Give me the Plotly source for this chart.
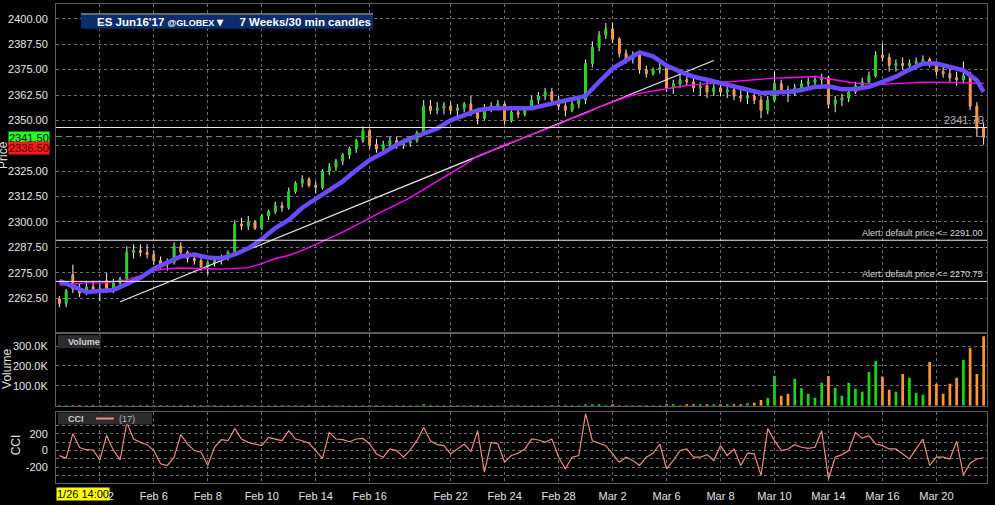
import plotly.graph_objects as go
from plotly.subplots import make_subplots

# trading sessions shown on the chart (Feb 20 holiday skipped by the platform)
trade_days = ["2017-01-31", "2017-02-01", "2017-02-02", "2017-02-03", "2017-02-06", "2017-02-07",
              "2017-02-08", "2017-02-09", "2017-02-10", "2017-02-13", "2017-02-14", "2017-02-15",
              "2017-02-16", "2017-02-17", "2017-02-21", "2017-02-22", "2017-02-23", "2017-02-24",
              "2017-02-27", "2017-02-28", "2017-03-01", "2017-03-02", "2017-03-03", "2017-03-06",
              "2017-03-07", "2017-03-08", "2017-03-09", "2017-03-10", "2017-03-13", "2017-03-14",
              "2017-03-15", "2017-03-16", "2017-03-17", "2017-03-20", "2017-03-21"]
slot_times = ["00:00", "06:00", "12:00", "18:00"]

label_days = ["2017-02-02", "2017-02-06", "2017-02-08", "2017-02-10", "2017-02-14", "2017-02-16",
              "2017-02-22", "2017-02-24", "2017-02-28", "2017-03-02", "2017-03-06", "2017-03-08",
              "2017-03-10", "2017-03-14", "2017-03-16", "2017-03-20"]
label_text = ["Feb 2", "Feb 6", "Feb 8", "Feb 10", "Feb 14", "Feb 16", "Feb 22", "Feb 24", "Feb 28",
              "Mar 2", "Mar 6", "Mar 8", "Mar 10", "Mar 14", "Mar 16", "Mar 20"]

bar_open = [2262, 2260, 2274, 2267, 2265, 2268, 2267, 2271, 2267, 2270,
            2272, 2285, 2286, 2285, 2284, 2281, 2279, 2280, 2288, 2285,
            2282, 2281, 2278, 2280, 2281, 2283, 2285, 2299, 2298, 2300,
            2297, 2303, 2305, 2308, 2307, 2315, 2319, 2321, 2318, 2317,
            2325, 2327, 2330, 2333, 2336, 2340, 2345, 2338, 2336, 2338,
            2340, 2338, 2339, 2340, 2344, 2357, 2355, 2356, 2357, 2355,
            2356, 2358, 2354, 2351, 2356, 2357, 2358, 2350, 2354, 2353,
            2356, 2360, 2362, 2364, 2360, 2357, 2355, 2358, 2360, 2378,
            2386, 2392, 2395, 2390, 2383, 2380, 2382, 2375, 2373, 2375,
            2376, 2366, 2368, 2370, 2369, 2366, 2367, 2364, 2366, 2364,
            2365, 2362, 2361, 2362, 2360, 2355, 2360, 2368, 2365, 2363,
            2366, 2368, 2369, 2370, 2371, 2358, 2360, 2361, 2364, 2367,
            2369, 2372, 2382, 2381, 2377, 2378, 2377, 2378, 2379, 2380,
            2378, 2374, 2373, 2371, 2370, 2372, 2357, 2346]
bar_high = [2263.5, 2267, 2279, 2270, 2271, 2271, 2270, 2275, 2272, 2273,
            2288, 2289, 2289, 2289, 2286, 2283, 2282, 2290, 2290, 2286,
            2284, 2283, 2281, 2283, 2284, 2286, 2301, 2302, 2303, 2301,
            2304, 2306, 2310, 2310, 2317, 2320, 2323, 2322, 2320, 2326,
            2329, 2331, 2334, 2337, 2341, 2347, 2346, 2341, 2340, 2342,
            2342, 2341, 2342, 2345, 2360, 2360, 2359, 2359, 2359, 2358,
            2359, 2362, 2356, 2358, 2359, 2360, 2359, 2355, 2356, 2357,
            2362, 2364, 2366, 2366, 2362, 2359, 2360, 2361, 2380, 2389,
            2394, 2398, 2398, 2391, 2385, 2384, 2383, 2377, 2376, 2379,
            2377, 2370, 2373, 2374, 2371, 2369, 2370, 2368, 2369, 2367,
            2367, 2366, 2365, 2364, 2362, 2362, 2374, 2370, 2367, 2368,
            2370, 2371, 2372, 2373, 2372, 2362, 2363, 2365, 2369, 2371,
            2374, 2384, 2388, 2383, 2380, 2381, 2380, 2381, 2382, 2381,
            2379, 2377, 2376, 2374, 2379, 2374, 2359, 2349]
bar_low = [2258, 2258, 2265, 2263, 2264, 2266, 2261, 2265, 2265, 2268,
           2271, 2282, 2283, 2282, 2279, 2277, 2276, 2279, 2283, 2280,
           2279, 2276, 2274, 2278, 2279, 2281, 2284, 2296, 2296, 2296,
           2296, 2301, 2304, 2305, 2306, 2314, 2317, 2317, 2314, 2316,
           2323, 2325, 2328, 2331, 2334, 2339, 2336, 2334, 2334, 2336,
           2336, 2336, 2337, 2339, 2343, 2353, 2353, 2353, 2353, 2352,
           2354, 2352, 2348, 2350, 2354, 2355, 2348, 2349, 2351, 2352,
           2355, 2358, 2360, 2358, 2355, 2352, 2354, 2356, 2358, 2376,
           2384, 2390, 2388, 2381, 2378, 2378, 2373, 2371, 2372, 2373,
           2364, 2363, 2366, 2367, 2364, 2362, 2361, 2362, 2362, 2361,
           2360, 2359, 2358, 2358, 2351, 2353, 2359, 2363, 2359, 2362,
           2364, 2366, 2367, 2366, 2356, 2354, 2357, 2359, 2363, 2366,
           2368, 2371, 2379, 2374, 2374, 2375, 2375, 2376, 2377, 2376,
           2372, 2371, 2369, 2367, 2368, 2355, 2342, 2338]
bar_close = [2260, 2266, 2267, 2265, 2268, 2267, 2266, 2267, 2270, 2272,
             2285, 2286, 2285, 2284, 2281, 2279, 2280, 2288, 2285, 2282,
             2281, 2278, 2280, 2281, 2283, 2285, 2299, 2298, 2300, 2297,
             2303, 2305, 2308, 2307, 2315, 2319, 2321, 2318, 2317, 2325,
             2327, 2330, 2333, 2336, 2340, 2345, 2338, 2336, 2338, 2340,
             2338, 2339, 2340, 2344, 2357, 2355, 2356, 2357, 2355, 2356,
             2358, 2354, 2351, 2356, 2357, 2358, 2350, 2354, 2353, 2356,
             2360, 2362, 2364, 2360, 2357, 2355, 2358, 2360, 2378, 2386,
             2392, 2395, 2390, 2383, 2380, 2382, 2375, 2373, 2375, 2376,
             2366, 2368, 2370, 2369, 2366, 2367, 2364, 2366, 2364, 2365,
             2362, 2361, 2362, 2360, 2355, 2360, 2368, 2365, 2363, 2366,
             2368, 2369, 2370, 2371, 2358, 2360, 2361, 2364, 2367, 2369,
             2372, 2382, 2381, 2377, 2378, 2377, 2378, 2379, 2380, 2378,
             2374, 2373, 2371, 2370, 2372, 2357, 2346, 2341.75]

volume = [300, 500, 800, 400, 300, 200, 600, 900, 400, 300, 1200, 700, 400, 500,
          600, 400, 300, 900, 700, 500, 400, 800, 600, 400, 500, 700, 1500, 800,
          600, 700, 900, 800, 600, 700, 1400, 900, 800, 700, 900, 1100, 800, 900,
          1000, 1100, 1300, 1600, 1500, 1000, 800, 900, 700, 800, 900, 1100, 2200, 1200,
          1000, 900, 1100, 1000, 900, 1600, 1500, 1200, 1000, 900, 1700, 1300, 1100, 1000,
          1400, 1300, 1500, 1600, 1400, 1500, 1200, 1300, 3500, 2500, 2200, 2000, 2400, 2100,
          1900, 1700, 2100, 1900, 1800, 2000, 2600, 2300, 2100, 2400, 3000, 2800, 4500, 3800,
          5000, 4200, 6000, 7500, 12000, 15000, 28000, 38000,
          150000, 50000, 60000, 135000, 88000, 60000, 40000, 115000, 150000, 90000,
          50000, 115000, 85000, 70000, 170000, 225000, 145000, 80000, 70000, 160000,
          140000, 65000, 55000, 220000, 110000, 60000, 110000, 140000, 230000, 290000,
          160000, 350000]

cci = [-60, -90, 200, 35, 10, 7, -110, 180, 5, -110,
       333, 137, 97, 70, 0, -157, -177, -79, 190, 78,
       0, -20, -177, 39, 129, 117, 260, 137, 97, 78,
       58, 156, 137, 117, 235, 137, 117, 86, 0, -95,
       215, 137, 129, 105, 137, 144, 78, -40, -79, 19,
       0, -79, 7, 117, 274, 117, 70, 58, -40, 19,
       78, -12, 235, -255, 97, 78, -138, -59, -32, 19,
       137, 125, 97, 137, -79, -216, -79, -59, 438, 117,
       86, 58, -40, -138, -79, -118, -177, -79, -32, 78,
       -216, -118, 0, 19, -79, -79, -48, -118, 58, -59,
       19, -177, -32, -40, -295, 260, 117, 0, 19, 70,
       39, 27, 39, 235, -334, -79, -48, 0, 215, 148,
       176, 78, 58, 19, 19, -40, -99, 19, 137, -177,
       -79, -79, -100, 110, -290, -150, -100, -85]

# moving averages read at every second bar plus the last one
ma_fast = [2271, 2268, 2265.5, 2266, 2266.5, 2269.5, 2272.5, 2277, 2280, 2283,
           2284, 2282.5, 2282, 2284, 2287, 2291.5, 2297, 2301, 2307, 2311.5,
           2316, 2320, 2325.5, 2330.5, 2334, 2338, 2341, 2343.5, 2346, 2350,
           2352.5, 2355, 2356, 2356, 2355.5, 2356, 2357.5, 2359, 2360, 2362,
           2369, 2375.5, 2379.5, 2383.5, 2381.5, 2377, 2374, 2371.5, 2370, 2368.3,
           2366.5, 2365, 2363.5, 2363.7, 2364, 2365, 2366.5, 2366.8, 2365.3, 2365.5,
           2366.5, 2369, 2371.5, 2375, 2378, 2378, 2376.5, 2374.6, 2369.7, 2364]
ma_slow = [2269, 2269.5, 2270, 2270, 2270.5, 2271.5, 2273.5, 2276, 2277, 2277.3,
           2277.3, 2277, 2276.8, 2277, 2277.5, 2279.5, 2282, 2283.5, 2286, 2289,
           2292, 2295, 2298.5, 2302, 2305.5, 2308.5, 2312, 2316, 2320, 2324,
           2328, 2332.5, 2335, 2338, 2340.3, 2343, 2345.5, 2348, 2351, 2353.5,
           2356.5, 2359, 2361.5, 2363.3, 2364.5, 2365.5, 2366.7, 2367.5, 2368.2, 2368.8,
           2369.2, 2369.8, 2370.5, 2370.8, 2371, 2371.2, 2371.6, 2370.5, 2369.5, 2368.3,
           2368, 2367.8, 2368.1, 2368.5, 2368.8, 2368.8, 2368.8, 2368.6, 2368.3, 2368.3]

trend_bars = [9, 97]
trend_prices = [2260.75, 2379.5]
alert_prices = [2291.00, 2270.75]
price_ticks = [2262.5, 2275, 2287.5, 2300, 2312.5, 2325, 2337.5, 2350, 2362.5, 2375, 2387.5, 2400]

up_color = "#14d814"
down_color = "#ff9433"
grid = "#6c6c6c"
border = "#5e5e5e"
font = "Liberation Sans, Arial, sans-serif"

bar_times = [d + " " + t for d in trade_days for t in slot_times][2:]
tick_vals = [d + " 00:00" for d in label_days]
ma_x = bar_times[0::2] + [bar_times[-1]]
body_top = [max(o, c) for o, c in zip(bar_open, bar_close)]
body_bottom = [min(o, c) for o, c in zip(bar_open, bar_close)]
vol_colors = [up_color if c >= o else down_color for o, c in zip(bar_open, bar_close)]


def px_x(px):
    return (px - 56) / 931.0


def px_y(py):
    return (486 - py) / 483.0


fig = make_subplots(rows=3, cols=1, shared_xaxes=True, vertical_spacing=0.01)

# white wicks, coloured bodies on top
fig.add_trace(go.Candlestick(x=bar_times, open=bar_open, high=bar_high, low=bar_low, close=bar_close,
                             increasing=dict(line=dict(color="#f2f2f2", width=1), fillcolor="#f2f2f2"),
                             decreasing=dict(line=dict(color="#f2f2f2", width=1), fillcolor="#f2f2f2"),
                             hoverinfo="skip"), row=1, col=1)
fig.add_trace(go.Candlestick(x=bar_times, open=bar_open, high=body_top, low=body_bottom, close=bar_close,
                             increasing=dict(line=dict(color=up_color, width=1), fillcolor=up_color),
                             decreasing=dict(line=dict(color=down_color, width=1), fillcolor=down_color),
                             hoverinfo="skip"), row=1, col=1)
fig.add_trace(go.Scatter(x=[bar_times[i] for i in trend_bars], y=trend_prices, mode="lines",
                         line=dict(color="#e8e8e8", width=1.2)), row=1, col=1)
fig.add_trace(go.Scatter(x=ma_x, y=ma_slow, mode="lines", line=dict(color="#ff00ff", width=1.4)), row=1, col=1)
fig.add_trace(go.Scatter(x=ma_x, y=ma_fast, mode="lines", line=dict(color="#6a4bff", width=4.5)), row=1, col=1)

fig.add_trace(go.Bar(x=bar_times, y=volume, marker_color=vol_colors, marker_line_width=0, width=0.4), row=2, col=1)
fig.add_trace(go.Scatter(x=bar_times, y=cci, mode="lines", line=dict(color="#f08b86", width=1.2)), row=3, col=1)

fig.update_xaxes(type="category", range=[-0.5, len(bar_times) - 0.5], tickvals=tick_vals, ticktext=label_text,
                 showgrid=True, gridcolor=grid, griddash="3px,3px", gridwidth=1,
                 showline=True, mirror=True, linecolor=border, linewidth=1, zeroline=False,
                 ticks="outside", ticklen=3, tickcolor="black",
                 tickfont=dict(family=font, size=11, color="#e0e0e0"), rangeslider_visible=False)
fig.update_xaxes(showticklabels=False, row=1, col=1)
fig.update_xaxes(showticklabels=False, row=2, col=1)

fig.update_yaxes(showgrid=True, gridcolor=grid, griddash="3px,3px", gridwidth=1, zeroline=False,
                 showline=True, mirror=True, linecolor=border, linewidth=1,
                 ticks="outside", ticklen=5, tickcolor="black",
                 tickfont=dict(family=font, size=11, color="#e6e6e6"))
fig.update_yaxes(range=[2245.7, 2407.3], tickvals=price_ticks, tickformat=".2f", row=1, col=1)
fig.update_yaxes(range=[0, 360000], tickvals=[100000, 200000, 300000],
                 ticktext=["100.0K", "200.0K", "300.0K"], row=2, col=1)
fig.update_yaxes(range=[-385, 462], tickvals=[-200, 0, 200], ticktext=["-200", "0", "200"],
                 minor=dict(tickvals=[-300, -100, 100, 300], showgrid=True, gridcolor=grid,
                            griddash="3px,3px", ticks=""), row=3, col=1)

shapes = []
for p in alert_prices:
    shapes.append(dict(type="line", xref="x domain", yref="y", x0=0, x1=1, y0=p, y1=p,
                       line=dict(color="#f0f0f0", width=1)))
shapes.append(dict(type="line", xref="x domain", yref="y", x0=0, x1=1, y0=2346.5, y1=2346.5,
                   line=dict(color="#e8e8e8", width=1.2)))
shapes.append(dict(type="line", xref="x domain", yref="y", x0=0, x1=1, y0=2342, y1=2342,
                   line=dict(color="#8a8a8a", width=1, dash="6px,4px")))
# title banner
shapes.append(dict(type="rect", xref="paper", yref="paper", x0=px_x(81), x1=px_x(373), y0=px_y(28), y1=px_y(14),
                   fillcolor="#0b2d6e", line=dict(width=0), layer="above"))
shapes.append(dict(type="rect", xref="paper", yref="paper", x0=px_x(81), x1=px_x(373), y0=px_y(14), y1=px_y(12),
                   fillcolor="#6a6a6a", line=dict(width=0), layer="above"))
# study labels
shapes.append(dict(type="rect", xref="paper", yref="paper", x0=px_x(58), x1=px_x(101), y0=px_y(350), y1=px_y(337),
                   fillcolor="#2c2c2c", line=dict(width=0), layer="above"))
shapes.append(dict(type="rect", xref="paper", yref="paper", x0=px_x(58), x1=px_x(152), y0=px_y(427), y1=px_y(415),
                   fillcolor="#2c2c2c", line=dict(width=0), layer="above"))
shapes.append(dict(type="line", xref="paper", yref="paper", x0=px_x(96), x1=px_x(114), y0=px_y(421), y1=px_y(421),
                   line=dict(color="#f08b86", width=2), layer="above"))

annotations = [
    dict(text="<b>ES Jun16'17 <span style='font-size:9px'>@GLOBEX</span> ▾</b>     <b>7 Weeks/30 min candles</b>",
         xref="paper", yref="paper", x=px_x(95), y=px_y(21.5), xanchor="left", yanchor="middle",
         showarrow=False, font=dict(family=font, size=11.5, color="white")),
    dict(text="<b>Volume</b>", xref="paper", yref="paper", x=px_x(66), y=px_y(343.5), xanchor="left",
         yanchor="middle", showarrow=False, font=dict(family=font, size=9, color="#d0d0d0")),
    dict(text="<b>CCI</b>", xref="paper", yref="paper", x=px_x(66), y=px_y(421), xanchor="left",
         yanchor="middle", showarrow=False, font=dict(family=font, size=9, color="#d0d0d0")),
    dict(text="(17)", xref="paper", yref="paper", x=px_x(117), y=px_y(421), xanchor="left",
         yanchor="middle", showarrow=False, font=dict(family=font, size=9, color="#b8b8b8")),
    dict(text="Alert: default price <= 2291.00", xref="paper", yref="y", x=px_x(985), y=2291,
         xanchor="right", yanchor="bottom", showarrow=False, font=dict(family=font, size=9, color="#d8d8d8")),
    dict(text="Alert: default price <= 2270.75", xref="paper", yref="y", x=px_x(985), y=2270.75,
         xanchor="right", yanchor="bottom", showarrow=False, font=dict(family=font, size=9, color="#d8d8d8")),
    dict(text="2341.70", xref="paper", yref="y", x=px_x(986), y=2346.5, xanchor="right", yanchor="bottom",
         showarrow=False, font=dict(family=font, size=11, color="#b0b0b0")),
    dict(text="2341.50", xref="paper", yref="y", x=px_x(50), y=2341.5, xanchor="right", yanchor="middle",
         showarrow=False, bgcolor="#22ff22", borderpad=0, font=dict(family=font, size=11, color="black")),
    dict(text="2336.50", xref="paper", yref="y", x=px_x(50), y=2336.5, xanchor="right", yanchor="middle",
         showarrow=False, bgcolor="#ff1818", borderpad=0, font=dict(family=font, size=11, color="#3a0000")),
    dict(text="1/26 14:00", xref="paper", yref="paper", x=0, y=px_y(497), xanchor="left", yanchor="middle",
         showarrow=False, bgcolor="#ffff00", borderpad=0, font=dict(family=font, size=11, color="black")),
    dict(text="Price", xref="paper", yref="y", x=px_x(3), y=2333, textangle=-90, xanchor="center",
         yanchor="middle", showarrow=False, font=dict(family=font, size=12, color="#e0e0e0")),
    dict(text="Volume", xref="paper", yref="paper", x=px_x(7), y=px_y(371), textangle=-90, xanchor="center",
         yanchor="middle", showarrow=False, font=dict(family=font, size=12, color="#e0e0e0")),
    dict(text="CCI", xref="paper", yref="paper", x=px_x(16), y=px_y(448), textangle=-90, xanchor="center",
         yanchor="middle", showarrow=False, font=dict(family=font, size=12, color="#e0e0e0")),
]

fig.update_layout(width=995, height=505, margin=dict(l=56, r=8, t=3, b=19),
                  paper_bgcolor="black", plot_bgcolor="black", showlegend=False, hovermode=False,
                  boxgap=0.68, bargap=0.5,
                  yaxis=dict(domain=[0.3147, 1]), yaxis2=dict(domain=[0.1615, 0.3106]),
                  yaxis3=dict(domain=[0, 0.149]),
                  shapes=shapes, annotations=annotations)

# the page body has a default 8px margin; drop it so the figure sits at the window corner
fig.write_html("out.html", config={"displayModeBar": False},
               post_script="document.body.style.margin='0px';")
